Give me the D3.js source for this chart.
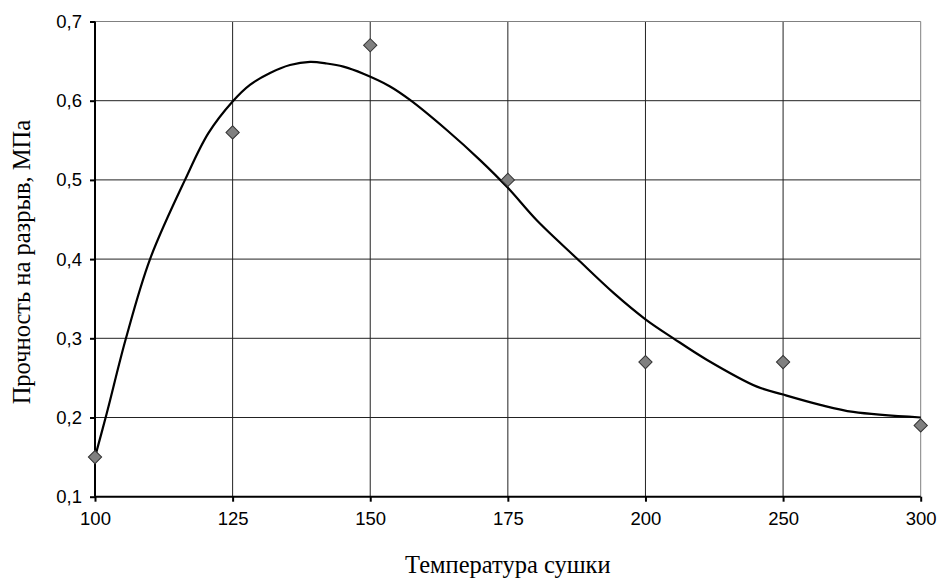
<!DOCTYPE html>
<html>
<head>
<meta charset="utf-8">
<script src="https://cdn.jsdelivr.net/npm/d3@7"></script>
<style>
  body { margin: 0; background: #fff; }
  svg { display: block; }
</style>
</head>
<body>
<svg id="chart" width="938" height="578"></svg>
<script>
// Categories on x axis (equally spaced, Excel category axis)
const temps = [100, 125, 150, 175, 200, 250, 300];
// Measured points
const strength = [0.15, 0.56, 0.67, 0.50, 0.27, 0.27, 0.19];
// Smoothed curve: position along the category axis and value
const curvePos = [0, 0.085, 0.225, 0.4, 0.654, 0.824, 1.0, 1.126, 1.272, 1.417, 1.563, 1.684, 1.805, 1.95, 2.144, 2.289, 2.556, 2.798, 3.0, 3.21, 3.5, 3.77, 4.0, 4.203, 4.445, 4.81, 5.0, 5.27, 5.51, 6.0];
const curveVal = [0.150, 0.205, 0.300, 0.400, 0.500, 0.559, 0.599, 0.620, 0.635, 0.645, 0.649, 0.647, 0.643, 0.634, 0.618, 0.601, 0.563, 0.525, 0.490, 0.449, 0.401, 0.357, 0.324, 0.300, 0.273, 0.239, 0.229, 0.216, 0.207, 0.200];
const yTicks = [0.1, 0.2, 0.3, 0.4, 0.5, 0.6, 0.7];

const margin = { top: 21.5, right: 17.3, bottom: 81.3, left: 95 };
const W = 938, H = 578;
const width = W - margin.left - margin.right;
const height = H - margin.top - margin.bottom;

const svg = d3.select("#chart");
const g = svg.append("g").attr("transform", `translate(${margin.left},${margin.top})`);

const x = d3.scalePoint().domain(temps).range([0, width]);
const xi = d3.scaleLinear().domain([0, temps.length - 1]).range([0, width]);
const y = d3.scaleLinear().domain([0.1, 0.7]).range([height, 0]);

const fmt = d => d3.format(".1f")(d).replace(".", ",");

// horizontal gridlines
g.append("g").selectAll("line").data(yTicks.slice(1, -1)).join("line")
  .attr("x1", 0).attr("x2", width)
  .attr("y1", d => y(d)).attr("y2", d => y(d))
  .attr("stroke", "#222").attr("stroke-width", 1);

// vertical gridlines
g.append("g").selectAll("line").data(temps.slice(1, -1)).join("line")
  .attr("x1", d => x(d)).attr("x2", d => x(d))
  .attr("y1", 0).attr("y2", height)
  .attr("stroke", "#222").attr("stroke-width", 1);

// plot area border (top/right)
g.append("path")
  .attr("d", `M0,${y(0.7)}H${width}V${height}`)
  .attr("fill", "none").attr("stroke", "#808080").attr("stroke-width", 1);

// axes
const yAxis = g.append("g")
  .call(d3.axisLeft(y).tickValues(yTicks).tickFormat(fmt).tickSize(5).tickPadding(8));
const xAxis = g.append("g").attr("transform", `translate(0,${height})`)
  .call(d3.axisBottom(x).tickSize(5).tickPadding(10));

[yAxis, xAxis].forEach(ax => {
  ax.select(".domain").attr("stroke", "#000").attr("stroke-width", 2);
  ax.selectAll(".tick line").attr("stroke", "#000").attr("stroke-width", 2);
  ax.selectAll(".tick text")
    .attr("fill", "#000")
    .style("font-family", "'Liberation Sans', Arial, sans-serif")
    .style("font-size", "18.5px");
});
yAxis.select(".domain").attr("d", `M0,${height}V0`);
xAxis.select(".domain").attr("d", `M0,0H${width}`);

// curve
const curveData = curvePos.map((p, i) => ({ p, v: curveVal[i] }));
g.append("path")
  .datum(curveData)
  .attr("fill", "none")
  .attr("stroke", "#000")
  .attr("stroke-width", 2.2)
  .attr("d", d3.line().x(d => xi(d.p)).y(d => y(d.v)).curve(d3.curveCatmullRom.alpha(0.5)));

// markers
const diamond = d3.symbol().type(d3.symbolSquare).size(88);
g.append("g").selectAll("path").data(temps).join("path")
  .attr("d", diamond)
  .attr("transform", (d, i) => `translate(${x(d)},${y(strength[i])}) rotate(45)`)
  .attr("fill", "#808080")
  .attr("stroke", "#333")
  .attr("stroke-width", 1);

// axis titles
svg.append("text")
  .attr("x", margin.left + width / 2)
  .attr("y", 573)
  .attr("text-anchor", "middle")
  .style("font-family", "'Liberation Serif', 'Times New Roman', serif")
  .style("font-size", "24.5px")
  .text("Температура сушки");

svg.append("text")
  .attr("transform", `translate(30,${margin.top + height / 2 + 3}) rotate(-90)`)
  .attr("text-anchor", "middle")
  .style("font-family", "'Liberation Serif', 'Times New Roman', serif")
  .style("font-size", "24.5px")
  .text("Прочность на разрыв, МПа");
</script>
</body>
</html>
